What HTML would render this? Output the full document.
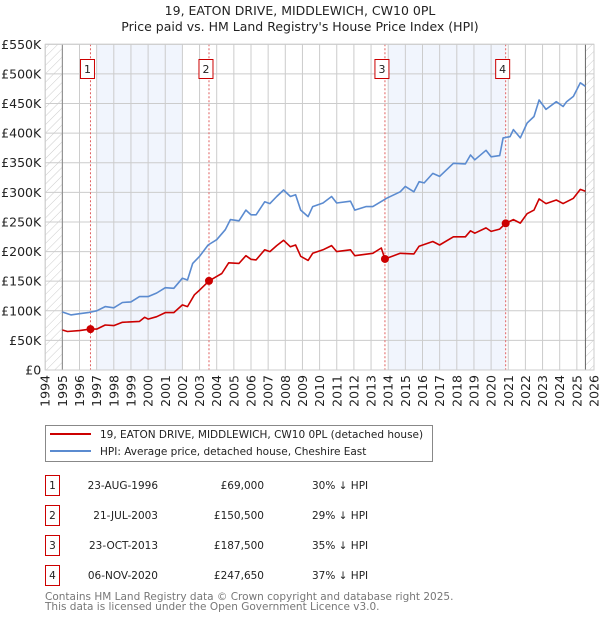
<!DOCTYPE html>
<html><head><meta charset="utf-8"><style>
body{margin:0;background:#fff;font-family:"DejaVu Sans","Liberation Sans",sans-serif;}
svg text{font-family:"DejaVu Sans","Liberation Sans",sans-serif;}
</style></head><body>
<svg id="c" width="600" height="620" xmlns="http://www.w3.org/2000/svg">
<defs><pattern id="hatch" width="6" height="6" patternUnits="userSpaceOnUse" patternTransform="rotate(45)"><line x1="0" y1="0" x2="0" y2="6" stroke="#ccc" stroke-width="1"/></pattern></defs>
<text x="300" y="15" text-anchor="middle" font-size="12.5" fill="#222">19, EATON DRIVE, MIDDLEWICH, CW10 0PL</text>
<text x="300" y="31" text-anchor="middle" font-size="12.5" fill="#222">Price paid vs. HM Land Registry's House Price Index (HPI)</text>
<g id="plot"></g>
<g>
<rect x="45.5" y="425.5" width="387" height="36" fill="#fff" stroke="#888"/>
<line x1="50" y1="434" x2="91" y2="434" stroke="#cc0000" stroke-width="2"/>
<text x="100" y="438" font-size="10.5" fill="#222">19, EATON DRIVE, MIDDLEWICH, CW10 0PL (detached house)</text>
<line x1="50" y1="451" x2="91" y2="451" stroke="#5b8bd0" stroke-width="2"/>
<text x="100" y="455" font-size="10.5" fill="#222">HPI: Average price, detached house, Cheshire East</text>
</g>
<g id="table" font-size="10.5" fill="#222"></g>
<text x="45" y="600" font-size="10.5" fill="#777">Contains HM Land Registry data © Crown copyright and database right 2025.</text>
<text x="45" y="610" font-size="10.5" fill="#777">This data is licensed under the Open Government Licence v3.0.</text>
</svg>
<script>
const hpiYears=[1995,1995.5,1996,1996.5,1997,1997.5,1998,1998.5,1999,1999.5,2000,2000.5,2001,2001.5,2002,2002.3,2002.6,2003,2003.5,2004,2004.5,2004.8,2005.3,2005.7,2006,2006.3,2006.8,2007.1,2007.5,2007.9,2008.3,2008.6,2008.9,2009.33,2009.6,2010.2,2010.7,2011,2011.8,2012.05,2012.7,2013.1,2013.9,2014.7,2015,2015.5,2015.8,2016.1,2016.6,2017,2017.8,2018.5,2018.8,2019.05,2019.7,2020,2020.5,2020.7,2021.1,2021.3,2021.7,2022.1,2022.5,2022.8,2023.2,2023.8,2024.2,2024.4,2024.8,2025.2,2025.5];
const hpiValues=[98,93,95,97,100,107,105,114,115,124,124,130,139,138,155,152,180,192,211,220,237,254,252,270,262,262,284,281,293,304,293,296,270,259,276,282,293,282,285,270,276,276,290,301,310,301,318,316,332,327,349,348,363,355,371,360,362,392,394,406,392,417,428,456,440,453,445,453,462,485,479];
const propYears=[1995,1995.3,1996,1996.64,1997,1997.5,1998,1998.5,1999.5,1999.8,2000,2000.5,2001,2001.5,2002,2002.3,2002.7,2003,2003.55,2004,2004.3,2004.7,2005.3,2005.7,2006,2006.3,2006.8,2007.1,2007.5,2007.9,2008.3,2008.6,2008.9,2009.33,2009.6,2010.2,2010.7,2011,2011.8,2012.05,2013.1,2013.6,2013.81,2014.7,2015.5,2015.8,2016.6,2017,2017.8,2018.5,2018.8,2019.05,2019.7,2020,2020.5,2020.85,2021.3,2021.7,2022.1,2022.5,2022.8,2023.2,2023.8,2024.2,2024.8,2025.2,2025.5];
const propValues=[67.6,65,66.5,69,69,76,75,80.5,82,89,86,90,97,97,110,107,127,135,150.5,158,163,181,180,193,187,186,203,200,210,219,208,211,192,185,197,203,210,200,203,193,197,206,187.5,197,196,209,217,211,225,225,235,231,240,234,238,247.65,254,248,264,270,289,281,287,281,290,305,302];
const saleLabels=["1","2","3","4"];
const saleYears=[1996.64,2003.55,2013.81,2020.85];
const salePrices=[69,150.5,187.5,247.65];
const saleDates=["23-AUG-1996","21-JUL-2003","23-OCT-2013","06-NOV-2020"];
const salePriceText=["£69,000","£150,500","£187,500","£247,650"];
const saleHpiText=["30% ↓ HPI","29% ↓ HPI","35% ↓ HPI","37% ↓ HPI"];
const yTicks=[0,50,100,150,200,250,300,350,400,450,500,550];
const yTickLabels=["£0","£50K","£100K","£150K","£200K","£250K","£300K","£350K","£400K","£450K","£500K","£550K"];
const xStart=1994,xEnd=2026;

const L=45.2,R=594,T=44.3,B=370;
const X=y=>L+(y-xStart)*(R-L)/(xEnd-xStart);
const Y=v=>B-v*(B-T)/550;
const NS="http://www.w3.org/2000/svg";
const plot=document.getElementById('plot');
function mk(tag,attrs,parent){const e=document.createElementNS(NS,tag);for(const k in attrs)e.setAttribute(k,attrs[k]);(parent||plot).appendChild(e);return e;}

let s1=mk('rect',{x:X(1997),y:T,width:X(2002)-X(1997),height:B-T,fill:'#eef3fc',opacity:0.8});


let s2=mk('rect',{x:X(2014),y:T,width:X(saleYears[3])-X(2014),height:B-T,fill:'#eef3fc',opacity:0.8});


let h1=mk('rect',{x:L,y:T,width:X(1995)-L,height:B-T,fill:'url(#hatch)'});


let h2=mk('rect',{x:X(2025.5),y:T,width:R-X(2025.5),height:B-T,fill:'url(#hatch)'});



for(let i=0;i<yTicks.length;i++){
  const g=mk('line',{x1:L,x2:R,y1:Y(yTicks[i]),y2:Y(yTicks[i]),stroke:'#ccc','stroke-width':1});
  
  
  const t=mk('text',{x:L-4,y:Y(yTicks[i])+4.5,'text-anchor':'end','font-size':'12.5',fill:'#222'});
  t.textContent=yTickLabels[i];
  
  
}
for(let yr=xStart;yr<=xEnd;yr++){
  const g=mk('line',{x1:X(yr),x2:X(yr),y1:T,y2:B,stroke:'#ccc','stroke-width':1});
  
  
  const t=mk('text',{x:0,y:0,'text-anchor':'end','font-size':'12.5',fill:'#222',transform:`translate(${X(yr)+4.5},${B+5}) rotate(-90)`});
  t.textContent=yr;
  
  
}
let ax1=mk('line',{x1:X(1995),x2:X(1995),y1:T,y2:B,stroke:'#888','stroke-width':1});


let ax2=mk('line',{x1:X(2025.5),x2:X(2025.5),y1:T,y2:B,stroke:'#666','stroke-width':1});



for(let i=0;i<saleYears.length;i++){
  const l=mk('line',{x1:X(saleYears[i]),x2:X(saleYears[i]),y1:T,y2:B,stroke:'#e06060','stroke-width':1,'stroke-dasharray':'2,2'});
  
  
  const bx=mk('rect',{x:X(saleYears[i])-10,y:59.5,width:14,height:19,fill:'#fff',stroke:'#cc0000'});
  
  
  const t=mk('text',{x:X(saleYears[i])-3,y:73,'text-anchor':'middle','font-size':'11',fill:'#222'});
  t.textContent=saleLabels[i];
  
  
}

const pts=(xs,vs)=>xs.map((x,i)=>X(x).toFixed(1)+','+Y(vs[i]).toFixed(1)).join(' ');
let hp=mk('polyline',{points:pts(hpiYears,hpiValues),fill:'none',stroke:'#5b8bd0','stroke-width':1.6,'stroke-linejoin':'round'});


let pp=mk('polyline',{points:pts(propYears,propValues),fill:'none',stroke:'#cc0000','stroke-width':1.6,'stroke-linejoin':'round'});


for(let i=0;i<saleYears.length;i++){
  const c=mk('circle',{cx:X(saleYears[i]),cy:Y(salePrices[i]),r:4,fill:'#cc0000'});
  
  
}
let bd=mk('rect',{x:L,y:T,width:R-L,height:B-T,fill:'none',stroke:'#ccc'});



const tb=document.getElementById('table');
for(let i=0;i<saleLabels.length;i++){
  const y=483+i*30;
  const b=mk('rect',{x:45.5,y:y-7.5,width:14,height:20,fill:'#fff',stroke:'#cc0000'},tb);
  
  
  const cols=[[52.5,saleLabels[i],'middle'],[158,saleDates[i],'end'],[264,salePriceText[i],'end'],[312,saleHpiText[i],'start']];
  for(const [x,txt,a] of cols){
    const t=mk('text',{x:x,y:y+6,'text-anchor':a},tb);
    t.textContent=txt;
    
    
  }
}
</script>
</body></html>
